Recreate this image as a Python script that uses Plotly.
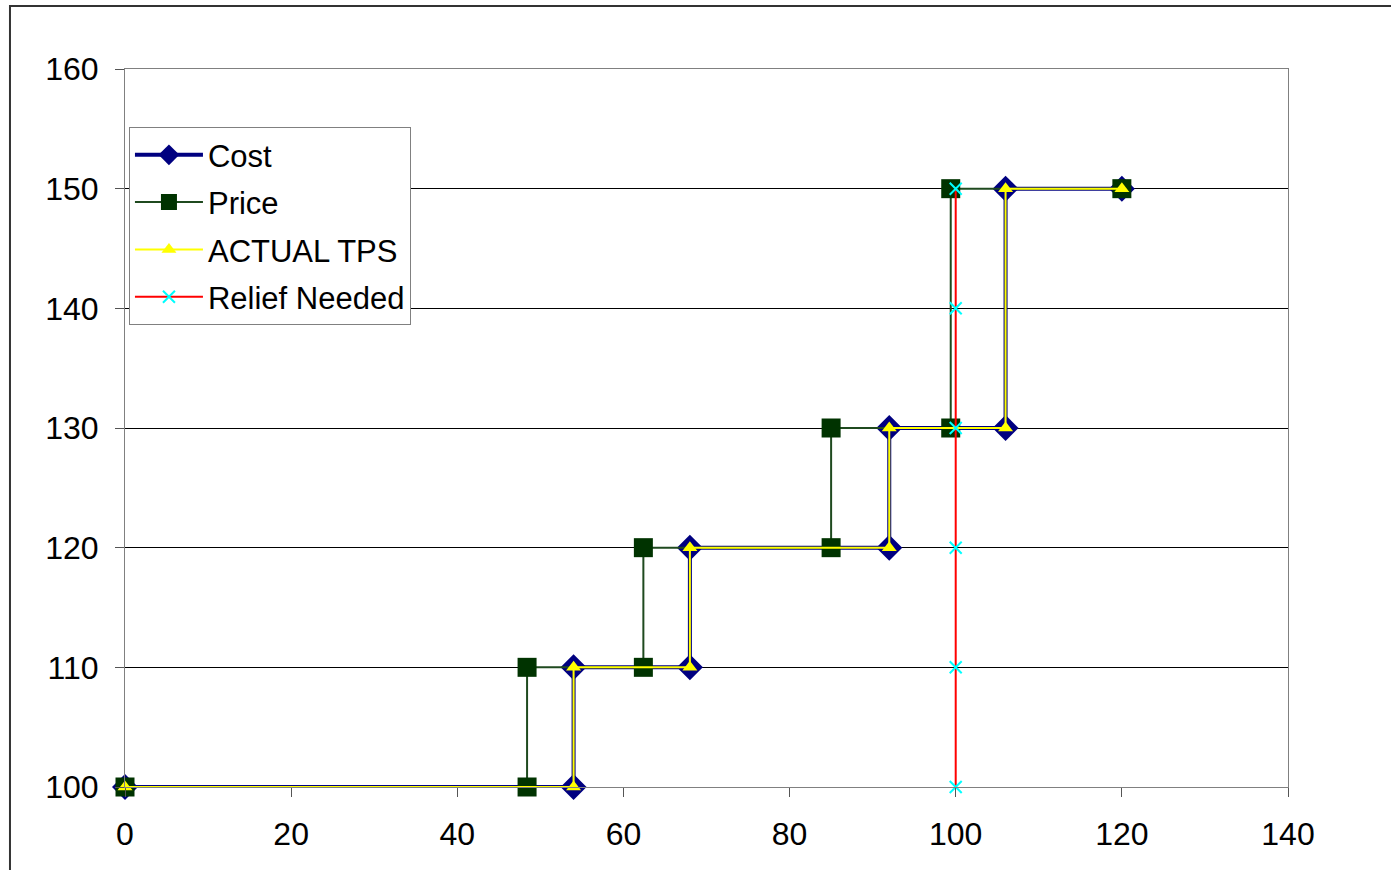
import plotly.graph_objects as go

# Step schedules: x position vs. level
cost_x = [0, 54, 54, 68, 68, 92, 92, 106, 106, 120]
cost_y = [100, 100, 110, 110, 120, 120, 130, 130, 150, 150]

price_x = [0, 48.4, 48.4, 62.4, 62.4, 85, 85, 99.4, 99.4, 120]
price_y = [100, 100, 110, 110, 120, 120, 130, 130, 150, 150]

tps_x = [0, 54, 54, 68, 68, 92, 92, 106, 106, 120]
tps_y = [100, 100, 110, 110, 120, 120, 130, 130, 150, 150]

relief_x = [100, 100, 100, 100, 100, 100]
relief_y = [100, 110, 120, 130, 140, 150]

x_ticks = [0, 20, 40, 60, 80, 100, 120, 140]
y_ticks = [100, 110, 120, 130, 140, 150, 160]

FONT = "Liberation Sans, Arial, sans-serif"

fig = go.Figure()
fig.add_trace(go.Scatter(
    x=cost_x, y=cost_y, name="Cost", mode="lines+markers",
    line=dict(color="#000080", width=4),
    marker=dict(symbol="diamond", size=20, color="#000080"),
    legendgroup="a", cliponaxis=False))
fig.add_trace(go.Scatter(
    x=price_x, y=price_y, name="Price", mode="lines+markers",
    line=dict(color="#1f4a1f", width=2),
    marker=dict(symbol="square", size=19, color="#003300"),
    legendgroup="b", cliponaxis=False))
fig.add_trace(go.Scatter(
    x=tps_x, y=tps_y, name="ACTUAL TPS", mode="lines+markers",
    line=dict(color="#ffff00", width=2),
    marker=dict(symbol="triangle-up", size=13, color="#ffff00"),
    legendgroup="c", cliponaxis=False))
fig.add_trace(go.Scatter(
    x=relief_x, y=relief_y, name="Relief Needed", mode="lines+markers",
    line=dict(color="#ff0000", width=2),
    marker=dict(symbol="x-thin", size=12, line=dict(color="#00ffff", width=2)),
    legendgroup="d", cliponaxis=False))

# outer chart frame
fig.add_shape(type="rect", xref="paper", yref="paper",
              x0=-0.0989, x1=1.3, y0=-0.3, y1=1.0877,
              line=dict(color="#333333", width=2), layer="below")

axis_common = dict(
    showline=True, linecolor="#808080", linewidth=1, mirror=True,
    ticks="outside", ticklen=9, tickcolor="#555555",
    tickfont=dict(family=FONT, size=32, color="black"),
    zeroline=False,
)

fig.update_xaxes(range=[0, 140], tickvals=x_ticks, showgrid=False,
                 ticklabelstandoff=10, **axis_common)
fig.update_yaxes(range=[100, 160], tickvals=y_ticks, showgrid=True,
                 gridcolor="black", gridwidth=1, ticklabelstandoff=10,
                 **axis_common)

fig.update_layout(
    width=1391, height=870,
    margin=dict(l=125, r=103, t=69, b=83),
    plot_bgcolor="white", paper_bgcolor="white",
    font=dict(family=FONT, size=32, color="black"),
    legend=dict(x=0.0034, y=0.919, xanchor="left", yanchor="top",
                bgcolor="white", bordercolor="#808080", borderwidth=1,
                font=dict(family=FONT, size=31), tracegroupgap=4,
                itemwidth=68),
)

fig.write_html("out.html")
